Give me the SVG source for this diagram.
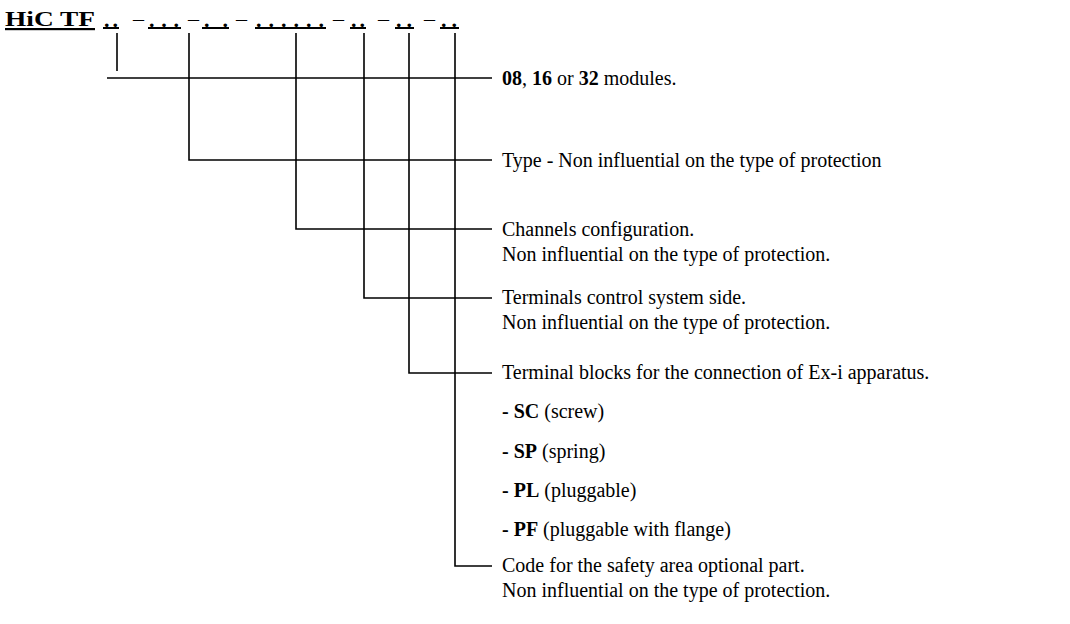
<svg xmlns="http://www.w3.org/2000/svg" width="1070" height="624" viewBox="0 0 1070 624">
<style>
.t{font-family:"Liberation Serif","Times New Roman",serif;font-size:20px;fill:#000}
.b{font-weight:bold}
.ti{font-family:"Liberation Serif","Times New Roman",serif;font-size:22px;font-weight:bold;fill:#000}
.dots{font-family:"Liberation Serif","Times New Roman",serif;font-size:22px;font-weight:bold;fill:#000}
.ul{stroke:#000;stroke-width:2}
.dash{font-family:"Liberation Serif","Times New Roman",serif;font-size:22px;fill:#000}
.c{fill:none;stroke:#000;stroke-width:1.6}
</style>
<rect width="1070" height="624" fill="#fff"/>
<g id="title">
<text class="ti" x="5" y="26" text-decoration="underline" textLength="90" lengthAdjust="spacingAndGlyphs">HiC TF</text>
<g id="code-blocks">
<text class="dots" x="104" y="27" textLength="14" lengthAdjust="spacing">..</text>
<line class="ul" x1="103" y1="28" x2="119" y2="28"/>
<text class="dash" x="133" y="26">–</text>
<text class="dots" x="149" y="27" textLength="30" lengthAdjust="spacing">...</text>
<line class="ul" x1="148" y1="28" x2="181" y2="28"/>
<text class="dash" x="188" y="26">–</text>
<text class="dots" x="204" y="27" textLength="24" lengthAdjust="spacing">..</text>
<line class="ul" x1="202" y1="28" x2="229" y2="28"/>
<text class="dash" x="236" y="26">–</text>
<text class="dots" x="256" y="27" textLength="68" lengthAdjust="spacing">......</text>
<line class="ul" x1="255" y1="28" x2="326" y2="28"/>
<text class="dash" x="333" y="26">–</text>
<text class="dots" x="351" y="27" textLength="14" lengthAdjust="spacing">..</text>
<line class="ul" x1="350" y1="28" x2="366" y2="28"/>
<text class="dash" x="378" y="26">–</text>
<text class="dots" x="396" y="27" textLength="16" lengthAdjust="spacing">..</text>
<line class="ul" x1="395" y1="28" x2="414" y2="28"/>
<text class="dash" x="424" y="26">–</text>
<text class="dots" x="441" y="27" textLength="16" lengthAdjust="spacing">..</text>
<line class="ul" x1="440" y1="28" x2="459" y2="28"/>
</g>
</g>
<g id="connectors">
<path class="c" d="M117,33 V71"/>
<path class="c" d="M107,78 H492" stroke-width="2.4"/>
<path class="c" d="M189,33 V160 H492"/>
<path class="c" d="M296,33 V229 H492"/>
<path class="c" d="M364,33 V298 H492"/>
<path class="c" d="M409,33 V373 H492"/>
<path class="c" d="M455,33 V566 H492"/>
</g>
<g id="n-modules"><text class="t" x="502" y="85"><tspan class="b">08</tspan>, <tspan class="b">16</tspan> or <tspan class="b">32</tspan> modules.</text></g>
<g id="n-type"><text class="t" x="502" y="167">Type - Non influential on the type of protection</text></g>
<g id="n-channels">
<text class="t" x="502" y="236">Channels configuration.</text>
<text class="t" x="502" y="261">Non influential on the type of protection.</text>
</g>
<g id="n-terminals">
<text class="t" x="502" y="304">Terminals control system side.</text>
<text class="t" x="502" y="329">Non influential on the type of protection.</text>
</g>
<g id="n-blocks">
<text class="t" x="502" y="379">Terminal blocks for the connection of Ex-i apparatus.</text>
<text class="t" x="502" y="418"><tspan class="b">- SC</tspan> (screw)</text>
<text class="t" x="502" y="458"><tspan class="b">- SP</tspan> (spring)</text>
<text class="t" x="502" y="497"><tspan class="b">- PL</tspan> (pluggable)</text>
<text class="t" x="502" y="536"><tspan class="b">- PF</tspan> (pluggable with flange)</text>
</g>
<g id="n-code">
<text class="t" x="502" y="572">Code for the safety area optional part.</text>
<text class="t" x="502" y="597">Non influential on the type of protection.</text>
</g>
</svg>
